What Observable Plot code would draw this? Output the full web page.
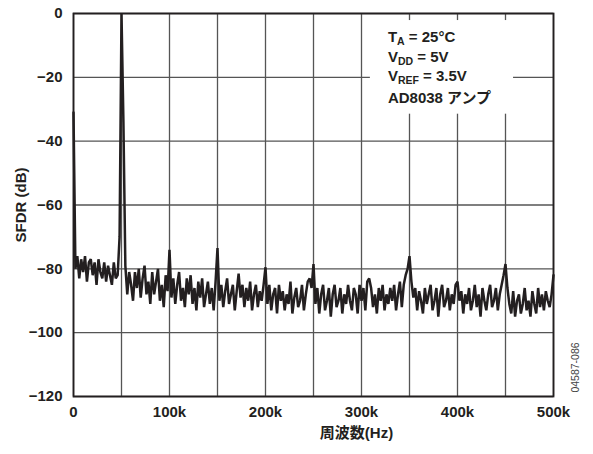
<!DOCTYPE html>
<html>
<head>
<meta charset="utf-8">
<script src="https://cdn.jsdelivr.net/npm/d3@7"></script>
<script src="https://cdn.jsdelivr.net/npm/@observablehq/plot@0.6"></script>
<style>
  html, body { margin: 0; padding: 0; background: #fff; }
</style>
</head>
<body>
<div id="chart"></div>
<script>
// FFT of the ADC output: frequency bins every 2 kHz, 0 … 500 kHz
const binStepHz = 2000;

// Measured SFDR (dB) per bin, DC first
const sfdrDb = [
  // 0 – 48 kHz
  -31, -80, -76, -83, -77, -81, -76, -84, -78, -77,
  -82, -78, -85, -77, -81, -83, -78, -84, -79, -82,
  -85, -78, -83, -82, -70,
  // fundamental, 50 kHz
  0, -34,
  // 54 – 98 kHz
  -79, -88, -81, -85, -90, -81, -86, -80, -89, -83,
  -79, -88, -84, -91, -81, -88, -84, -80, -90, -85,
  -92, -82, -87,
  // 100 kHz
  -74,
  -89, -83, -91, -85, -81, -90, -86, -92, -83, -88,
  -82, -91, -86, -93, -84, -89, -83, -92, -88, -84,
  -91, -86, -93, -84,
  // 150 kHz
  -73.5,
  -90, -85, -92, -87, -83, -91, -88, -85, -93, -87,
  -81.5, -89, -85, -92, -86, -90, -84, -93, -88, -85,
  -92, -87, -90, -85,
  // 200 kHz
  -79.5,
  -91, -85, -93, -88, -86, -94, -85, -90, -87, -93,
  -88, -91, -84, -94, -89, -86, -92, -90, -85, -93,
  -88, -84, -83, -86,
  // 250 kHz
  -78.5,
  -91, -86, -94, -88, -85, -93, -90, -86, -95, -88,
  -85, -92, -90, -86, -94, -88, -91, -85, -90, -93,
  -86, -88, -94, -85,
  // 300 – 348 kHz
  -90, -86, -93, -84, -83, -86, -92, -88, -94, -86,
  -90, -85, -93, -88, -91, -86, -90, -85, -93, -88,
  -84, -92, -85, -82, -80,
  // 350 kHz
  -76,
  -84, -89, -86, -93, -87, -90, -94, -86, -91, -88,
  -85, -93, -90, -86, -95, -88, -85, -92, -90, -86,
  -93, -88, -91, -85,
  // 400 – 448 kHz
  -84, -90, -87, -94, -88, -91, -86, -93, -90, -85,
  -92, -88, -95, -86, -90, -93, -88, -85, -92, -90,
  -86, -93, -88, -85, -82,
  // 450 kHz
  -78.5,
  -86, -91, -94, -87, -95, -90, -88, -94, -91, -86,
  -93, -90, -95, -87, -91, -94, -86, -92, -88, -93,
  -87, -90, -92, -88,
  // 500 kHz
  -82
];

// Axis ticks and grid
const xTicks = [0, 100000, 200000, 300000, 400000, 500000];
const xGrid = [0, 50000, 100000, 150000, 200000, 250000, 300000, 350000, 400000, 450000, 500000];
const yTicks = [0, -20, -40, -60, -80, -100, -120];

// Text
const yLabel = "SFDR (dB)";
const xLabel = "周波数(Hz)";
const figureId = "04587-086";
const conditions = [
  ["T", "A", " = 25°C"],
  ["V", "DD", " = 5V"],
  ["V", "REF", " = 3.5V"],
  ["AD8038 アンプ", "", ""]
];

const spectrum = sfdrDb.map((db, i) => ({hz: i * binStepHz, db}));
const fmtHz = d => d === 0 ? "0" : `${d / 1000}k`;

const ink = "#231f20";
const font = "'Liberation Sans', Arial, 'Noto Sans CJK JP', sans-serif";

const chart = Plot.plot({
  width: 593,
  height: 454,
  marginTop: 13,
  marginBottom: 58,
  marginLeft: 73,
  marginRight: 40,
  style: {fontFamily: font, fontSize: "15px", fontWeight: "bold", color: ink, background: "#fff"},
  x: {domain: [0, 500000]},
  y: {domain: [-120, 0]},
  marks: [
    Plot.ruleX(xGrid, {stroke: "#555", strokeWidth: 1.3}),
    Plot.ruleY(yTicks, {stroke: "#555", strokeWidth: 1.3}),
    Plot.line(spectrum, {x: "hz", y: "db", stroke: ink, strokeWidth: 2.5, strokeLinejoin: "miter"}),
    Plot.frame({stroke: ink, strokeWidth: 1.8}),
    Plot.axisX({ticks: xTicks, tickFormat: fmtHz, tickSize: 0, tickPadding: 10, label: null, fontSize: 15, fontWeight: "bold"}),
    Plot.axisY({ticks: yTicks, tickSize: 0, tickPadding: 11, label: null, fontSize: 15, fontWeight: "bold"}),
    Plot.text([yLabel], {frameAnchor: "left", dx: -52, rotate: -90, textAnchor: "middle", lineAnchor: "middle", fontSize: 15, fontWeight: "bold", fill: ink}),
    Plot.text([xLabel], {frameAnchor: "bottom", dx: 43, dy: 37, textAnchor: "middle", lineAnchor: "middle", fontSize: 15, fontWeight: "bold", fill: ink}),
    Plot.text([figureId], {frameAnchor: "bottom-right", dx: 22, dy: -29, rotate: -90, textAnchor: "middle", lineAnchor: "middle", fontSize: 10.5, fontWeight: "normal", fill: "#444"})
  ]
});

document.getElementById("chart").appendChild(chart);

// Test-condition box in the upper right of the frame
const sx = chart.scale("x"), sy = chart.scale("y");
const left = sx.apply(328000);
const baselines = [-9.1, -15.2, -21.2, -28.1].map(v => sy.apply(v));
const box = d3.select(chart).append("g")
  .attr("font-family", font)
  .attr("font-weight", "bold")
  .attr("font-size", 15)
  .attr("text-anchor", "start")
  .attr("fill", ink);
const rect = box.append("rect").attr("fill", "#fff");
const lines = box.append("g");
conditions.forEach(([main, sub, rest], i) => {
  const t = lines.append("text").attr("x", left).attr("y", baselines[i]);
  t.append("tspan").text(main);
  if (sub) {
    t.append("tspan").attr("font-size", 10.5).attr("dy", 3).text(sub);
    t.append("tspan").attr("dy", -3).text(rest);
  }
});
const bb = lines.node().getBBox();
rect.attr("x", bb.x - 18).attr("y", bb.y - 8)
  .attr("width", bb.width + 40).attr("height", bb.height + 16);
</script>
</body>
</html>
